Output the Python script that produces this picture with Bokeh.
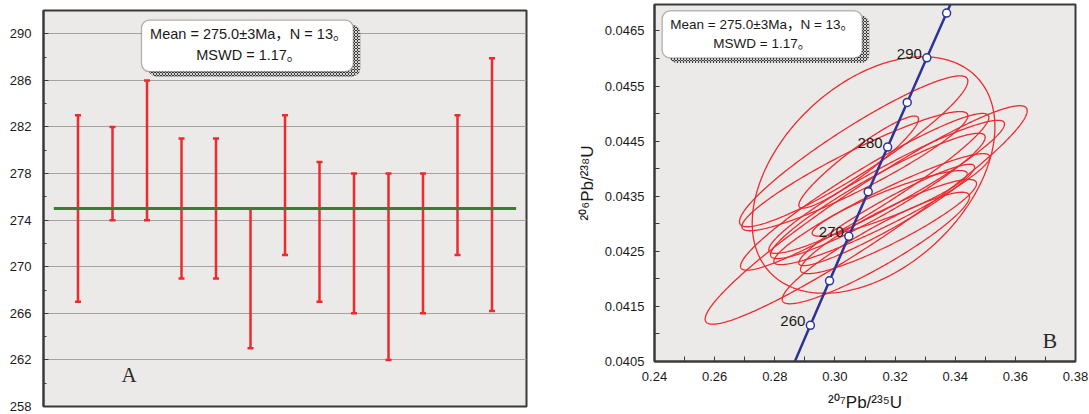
import numpy as np
from bokeh.plotting import figure
from bokeh.layouts import row
from bokeh.models import FixedTicker, PrintfTickFormatter, Label, BoxAnnotation, Range1d
from bokeh.core.properties import value
from bokeh.embed import file_html
from bokeh.resources import INLINE

# ---------------- data : panel A (weighted mean plot) ----------------
spot = [1, 2, 3, 4, 5, 6, 7, 8, 9, 10, 11, 12, 13]
age_low = [267, 274, 274, 269, 269, 263, 271, 267, 266, 262, 266, 271, 266.2]
age_high = [283, 282, 286, 281, 281, 275, 283, 279, 278, 278, 278, 283, 287.9]
mean_age = 275.0
a_yticks = [258, 262, 266, 270, 274, 278, 282, 286, 290]
a_yminor = [260, 264, 268, 272, 276, 280, 284, 288]

# ---------------- data : panel B (concordia) ----------------
conc_age = [250, 255, 260, 265, 270, 275, 280, 285, 290, 295, 300]
conc_x = [0.279172, 0.285486, 0.291832, 0.298209, 0.304617, 0.311057,
          0.317529, 0.324033, 0.330568, 0.337136, 0.343737]
conc_y = [0.039543, 0.040350, 0.041157, 0.041965, 0.042773, 0.043582,
          0.044392, 0.045202, 0.046013, 0.046825, 0.047637]
conc_label_age = [260, 270, 280, 290]

# error ellipses: left / right extreme points and vertical half-thickness
ell_x_left = [0.2725, 0.25685, 0.26827, 0.26904, 0.26860, 0.27802, 0.27858,
              0.27969, 0.28246, 0.28800, 0.28800, 0.28855, 0.29243]
ell_y_left = [0.04301, 0.04127, 0.04304, 0.04295, 0.04223, 0.04253, 0.04244,
              0.04232, 0.04163, 0.04334, 0.04229, 0.04217, 0.04283]
ell_x_right = [0.3532, 0.36393, 0.34420, 0.34420, 0.35118, 0.35640, 0.34997,
               0.35152, 0.34476, 0.32780, 0.34642, 0.34708, 0.34398]
ell_y_right = [0.04476, 0.04505, 0.04559, 0.04496, 0.04493, 0.04481, 0.04457,
               0.04421, 0.04349, 0.04490, 0.04403, 0.04373, 0.04391]
ell_half_thick = [0.00196, 0.00060, 0.00050, 0.00040, 0.00045, 0.00040, 0.00040,
                  0.00035, 0.00040, 0.00030, 0.00030, 0.00035, 0.00025]

b_xticks = [0.24, 0.26, 0.28, 0.30, 0.32, 0.34, 0.36, 0.38]
b_xminor = [0.25, 0.27, 0.29, 0.31, 0.33, 0.35, 0.37]
b_yticks = [0.0405, 0.0415, 0.0425, 0.0435, 0.0445, 0.0455, 0.0465]
b_yminor = [0.0410, 0.0420, 0.0430, 0.0440, 0.0450, 0.0460]

summary_line1 = "Mean = 275.0±3Ma，N = 13。"
summary_line2 = "MSWD = 1.17。"
x_title = "²⁰⁷Pb/²³⁵U"
y_title = "²⁰⁶Pb/²³⁸U"

# ---------------- styles ----------------
SANS = "Liberation Sans"
SANS_CJK = "'Liberation Sans', 'Noto Sans CJK SC'"
SERIF = "Liberation Serif"
BG = "#ebeae8"
FRAME = "#3a3a3a"
RED = "#ee2a2f"
GREEN = "#3b7a3b"
BLUE = "#2e3396"
TXT = "#1a1a1a"


def style_axis(ax, standoff, title_standoff):
    ax.axis_line_color = FRAME
    ax.axis_line_width = 2
    ax.major_tick_line_color = FRAME
    ax.minor_tick_line_color = FRAME
    ax.major_tick_in = 5
    ax.major_tick_out = 0
    ax.major_label_text_font = SANS
    ax.major_label_text_font_size = "13px"
    ax.major_label_text_color = TXT
    ax.major_label_standoff = standoff
    ax.axis_label_text_font = SANS
    ax.axis_label_text_font_size = "17px"
    ax.axis_label_text_font_style = "normal"
    ax.axis_label_text_color = TXT
    ax.axis_label_standoff = title_standoff


def summary_box(p, l, r, b, t, dx, dy, tx, ty1, ty2, fs):
    p.add_layout(BoxAnnotation(left=l + dx, right=r + dx, bottom=b - dy, top=t - dy,
                               fill_color="#3c3c3c", fill_alpha=1.0, line_alpha=0,
                               hatch_pattern="diagonal_cross", hatch_color="white",
                               hatch_scale=3, hatch_weight=0.8, border_radius=8))
    p.add_layout(BoxAnnotation(left=l, right=r, bottom=b, top=t,
                               fill_color="white", fill_alpha=1.0,
                               line_color="#111111", line_width=1.3, border_radius=8))
    for txt, ty in ((summary_line1, ty1), (summary_line2, ty2)):
        p.add_layout(Label(x=tx, y=ty, text=txt, text_font=SANS_CJK, text_font_size=fs,
                           text_color=TXT, text_align="center", text_baseline="middle"))


# ---------------- panel A ----------------
pa = figure(width=560, height=414, x_range=Range1d(0, 14), y_range=Range1d(258, 292),
            output_backend="svg", toolbar_location=None, frame_align=False,
            min_border_left=43, min_border_right=34, min_border_top=10, min_border_bottom=8,
            background_fill_color=BG, border_fill_color="white",
            outline_line_color=FRAME, outline_line_width=2)
pa.xaxis.visible = False
pa.xgrid.visible = False
pa.yaxis.ticker = FixedTicker(ticks=a_yticks, minor_ticks=a_yminor)
style_axis(pa.yaxis[0], 12, 5)
pa.yaxis.minor_tick_in = 3
pa.yaxis.minor_tick_out = 0
pa.ygrid.grid_line_color = "#a3a3a3"
pa.ygrid.grid_line_width = 1

pa.segment(x0=spot, y0=age_low, x1=spot, y1=age_high, line_color=RED, line_width=2.5)
pa.scatter(x=spot + spot, y=age_low + age_high, marker="dash", size=6,
           line_color=RED, line_width=2.5)
pa.segment(x0=[0.3], y0=[mean_age], x1=[13.7], y1=[mean_age], line_color=GREEN, line_width=3)

summary_box(pa, 2.84, 8.98, 286.76, 291.17, 0.2, 0.42, 5.95, 289.97, 288.15, "14.5px")
pa.add_layout(Label(x=2.48, y=260.7, text="A", text_font=SERIF, text_font_size="21px",
                    text_color="#2a2a2a", text_align="center", text_baseline="middle"))

# ---------------- panel B ----------------
pb = figure(width=528, height=414, x_range=Range1d(0.24, 0.38), y_range=Range1d(0.0405, 0.04698),
            output_backend="svg", toolbar_location=None, frame_align=False,
            min_border_left=94, min_border_right=13, min_border_top=4, min_border_bottom=52,
            background_fill_color=BG, border_fill_color="white",
            outline_line_color=FRAME, outline_line_width=2)
pb.grid.visible = False
pb.xaxis.ticker = FixedTicker(ticks=b_xticks, minor_ticks=b_xminor)
pb.yaxis.ticker = FixedTicker(ticks=b_yticks, minor_ticks=b_yminor)
pb.xaxis.formatter = PrintfTickFormatter(format="%.2f")
pb.yaxis.formatter = PrintfTickFormatter(format="%.4f")
style_axis(pb.xaxis[0], 10, 9)
style_axis(pb.yaxis[0], 10, 5)
for ax in (pb.xaxis, pb.yaxis):
    ax.minor_tick_in = 5
    ax.minor_tick_out = 0
pb.xaxis.axis_label = x_title
pb.yaxis.axis_label = y_title

# ellipses
t = np.linspace(0, 2 * np.pi, 361)
xs, ys = [], []
for xl, yl, xr, yr, v in zip(ell_x_left, ell_y_left, ell_x_right, ell_y_right, ell_half_thick):
    cx, cy = (xl + xr) / 2, (yl + yr) / 2
    hx, dy = (xr - xl) / 2, (yr - yl) / 2
    xs.append(list(cx + hx * np.cos(t)))
    ys.append(list(cy + dy * np.cos(t) + v * np.sin(t)))
pb.multi_line(xs=xs, ys=ys, line_color=RED, line_width=1.3)

# concordia
pb.line(conc_x, conc_y, line_color=BLUE, line_width=2.5)
pb.scatter(conc_x, conc_y, size=8, fill_color="white", line_color=BLUE, line_width=1.5)
idx = [conc_age.index(a) for a in conc_label_age]
pb.text(x=[conc_x[i] for i in idx], y=[conc_y[i] for i in idx],
        text=[str(a) for a in conc_label_age], text_align="right", text_baseline="middle",
        x_offset=-5, y_offset=-4, text_font=value(SANS), text_font_size="15px", text_color=TXT)

summary_box(pb, 0.24256, 0.30907, 0.04601, 0.046864, 0.00233, 0.00009,
            0.27582, 0.046622, 0.046269, "13.5px")
pb.add_layout(Label(x=0.3715, y=0.040875, text="B", text_font=SERIF, text_font_size="22px",
                    text_color="#2a2a2a", text_align="center", text_baseline="middle"))

layout = row(pa, pb)
open("out.html", "w").write(file_html(layout, INLINE))
